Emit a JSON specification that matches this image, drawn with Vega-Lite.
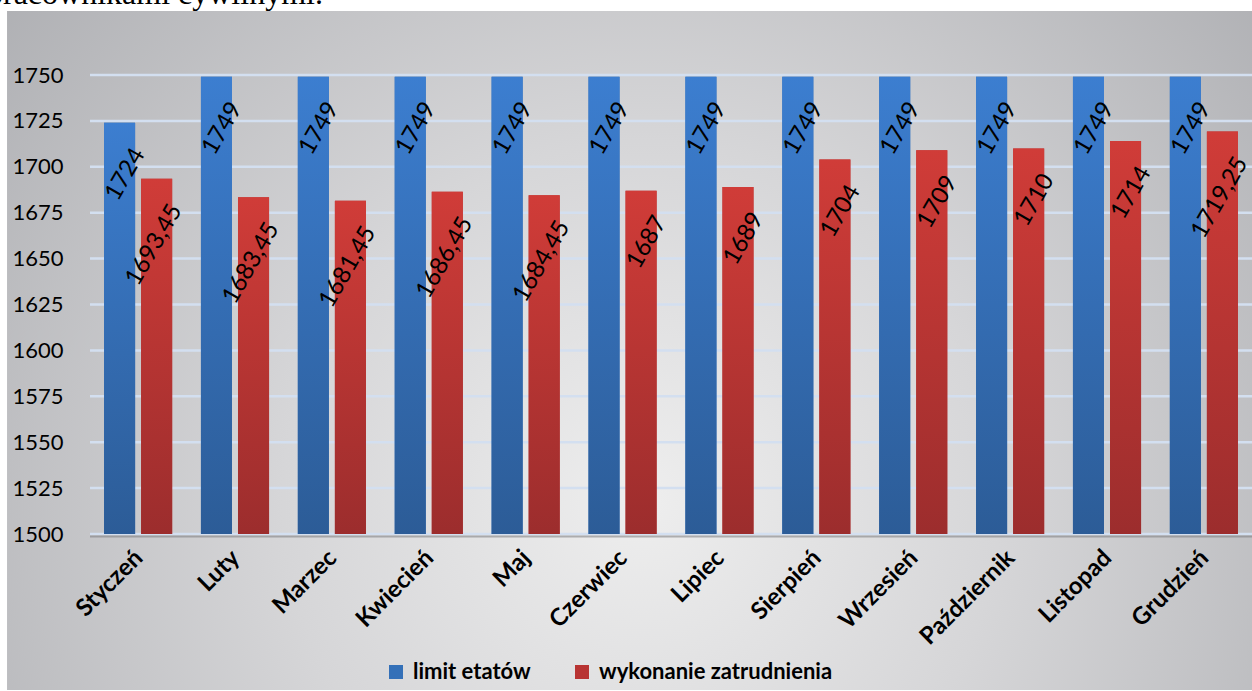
{
  "$schema": "https://vega.github.io/schema/vega-lite/v6.json",
  "width": 1162,
  "height": 459,
  "autosize": {"type": "none"},
  "padding": {"left": 90, "top": 75, "right": 0, "bottom": 157},
  "background": "white",
  "title": {
    "text": "pracownikami cywilnymi.",
    "anchor": "start",
    "frame": "group",
    "font": "Liberation Serif",
    "fontSize": 32,
    "fontWeight": "normal",
    "color": "black",
    "baseline": "alphabetic",
    "dx": -103,
    "dy": 25,
    "offset": 0
  },
  "config": {
    "view": {"stroke": null},
    "locale": {"number": {"decimal": ",", "thousands": " ", "grouping": [3], "currency": ["", " zł"]}}
  },
  "datasets": {
    "bars": [
      {"miesiac": "Styczeń", "seria": "limit etatów", "wartosc": 1724},
      {"miesiac": "Styczeń", "seria": "wykonanie zatrudnienia", "wartosc": 1693.45},
      {"miesiac": "Luty", "seria": "limit etatów", "wartosc": 1749},
      {"miesiac": "Luty", "seria": "wykonanie zatrudnienia", "wartosc": 1683.45},
      {"miesiac": "Marzec", "seria": "limit etatów", "wartosc": 1749},
      {"miesiac": "Marzec", "seria": "wykonanie zatrudnienia", "wartosc": 1681.45},
      {"miesiac": "Kwiecień", "seria": "limit etatów", "wartosc": 1749},
      {"miesiac": "Kwiecień", "seria": "wykonanie zatrudnienia", "wartosc": 1686.45},
      {"miesiac": "Maj", "seria": "limit etatów", "wartosc": 1749},
      {"miesiac": "Maj", "seria": "wykonanie zatrudnienia", "wartosc": 1684.45},
      {"miesiac": "Czerwiec", "seria": "limit etatów", "wartosc": 1749},
      {"miesiac": "Czerwiec", "seria": "wykonanie zatrudnienia", "wartosc": 1687},
      {"miesiac": "Lipiec", "seria": "limit etatów", "wartosc": 1749},
      {"miesiac": "Lipiec", "seria": "wykonanie zatrudnienia", "wartosc": 1689},
      {"miesiac": "Sierpień", "seria": "limit etatów", "wartosc": 1749},
      {"miesiac": "Sierpień", "seria": "wykonanie zatrudnienia", "wartosc": 1704},
      {"miesiac": "Wrzesień", "seria": "limit etatów", "wartosc": 1749},
      {"miesiac": "Wrzesień", "seria": "wykonanie zatrudnienia", "wartosc": 1709},
      {"miesiac": "Październik", "seria": "limit etatów", "wartosc": 1749},
      {"miesiac": "Październik", "seria": "wykonanie zatrudnienia", "wartosc": 1710},
      {"miesiac": "Listopad", "seria": "limit etatów", "wartosc": 1749},
      {"miesiac": "Listopad", "seria": "wykonanie zatrudnienia", "wartosc": 1714},
      {"miesiac": "Grudzień", "seria": "limit etatów", "wartosc": 1749},
      {"miesiac": "Grudzień", "seria": "wykonanie zatrudnienia", "wartosc": 1719.25}
    ],
    "grid": [
      {"poziom": 1500}, {"poziom": 1525}, {"poziom": 1550}, {"poziom": 1575}, {"poziom": 1600}, {"poziom": 1625},
      {"poziom": 1650}, {"poziom": 1675}, {"poziom": 1700}, {"poziom": 1725}, {"poziom": 1750}
    ],
    "tlo": [{"a": 0}]
  },
  "resolve": {"scale": {"x": "independent"}},
  "layer": [
    {
      "data": {"name": "tlo"},
      "mark": {
        "type": "rect",
        "clip": false,
        "fill": {
          "gradient": "radial",
          "x1": 0.51, "y1": 0.62, "r1": 0,
          "x2": 0.51, "y2": 0.62, "r2": 0.72,
          "stops": [
            {"offset": 0, "color": "#eeeeee"},
            {"offset": 0.4, "color": "#d6d6d8"},
            {"offset": 1, "color": "#a8a9ad"}
          ]
        }
      },
      "encoding": {
        "x": {"datum": -0.0714, "type": "quantitative", "scale": {"domain": [0, 1], "nice": false, "zero": false}, "axis": null},
        "x2": {"datum": 1.0},
        "y": {"datum": 1784.9, "type": "quantitative", "scale": {"domain": [1500, 1750], "nice": false, "zero": false}},
        "y2": {"datum": 1415.0}
      }
    },
    {
      "layer": [
        {
          "data": {"name": "grid"},
          "mark": {"type": "rule", "stroke": "#d3dff0", "strokeWidth": 2.5},
          "encoding": {
            "y": {"field": "poziom", "type": "quantitative", "scale": {"domain": [1500, 1750], "nice": false, "zero": false}}
          }
        },
        {
          "data": {"name": "tlo"},
          "mark": {"type": "rule", "stroke": "#7a7a7c", "strokeWidth": 2, "opacity": 0.55, "yOffset": 2.5},
          "encoding": {
            "y": {"datum": 1500, "type": "quantitative", "scale": {"domain": [1500, 1750], "nice": false, "zero": false}}
          }
        },
        {
          "data": {"name": "bars"},
          "mark": {"type": "bar", "clip": false},
          "encoding": {
            "x": {
              "field": "miesiac", "type": "nominal", "sort": null,
              "scale": {"paddingInner": 0.297, "paddingOuter": 0.145},
              "axis": {
                "title": null, "labelAngle": -45, "labelAlign": "right", "labelBaseline": "middle",
                "labelFont": "Lato", "labelFontWeight": "bold", "labelFontSize": 24, "labelColor": "black",
                "labelPadding": 20, "labelOffset": 1, "ticks": false, "domain": false, "grid": false,
                "labelOverlap": false, "labelBound": false, "labelFlush": false, "labelLimit": 0, "zindex": 1
              }
            },
            "xOffset": {"field": "seria", "type": "nominal", "scale": {"domain": ["limit etatów", "wykonanie zatrudnienia"], "paddingInner": 0.162, "paddingOuter": 0}},
            "y": {
              "field": "wartosc", "type": "quantitative",
              "scale": {"domain": [1500, 1750], "nice": false, "zero": false},
              "axis": {
                "title": null, "values": [1500, 1525, 1550, 1575, 1600, 1625, 1650, 1675, 1700, 1725, 1750],
                "format": "d", "labelFont": "Lato", "labelFontSize": 22, "labelColor": "black",
                "labelPadding": 27, "ticks": false, "domain": false, "grid": false, "zindex": 1
              }
            },
            "y2": {"datum": 1500},
            "color": {
              "field": "seria", "type": "nominal",
              "scale": {
                "domain": ["limit etatów", "wykonanie zatrudnienia"],
                "range": ["#3470b8", "#b83433"]
              },
              "legend": {
                "title": null, "orient": "none", "direction": "horizontal",
                "legendX": 295, "legendY": 586,
                "symbolType": "square", "symbolSize": 196, "symbolStrokeWidth": 0,
                "labelFont": "Lato", "labelFontWeight": "bold", "labelFontSize": 22, "labelColor": "black",
                "labelLimit": 0, "columnPadding": 40, "labelOffset": 6
              }
            }
          }
        },
        {
          "data": {"name": "bars"},
          "mark": {"type": "bar", "clip": false},
          "encoding": {
            "x": {"field": "miesiac", "type": "nominal", "sort": null, "scale": {"paddingInner": 0.297, "paddingOuter": 0.145}},
            "xOffset": {"field": "seria", "type": "nominal", "scale": {"domain": ["limit etatów", "wykonanie zatrudnienia"], "paddingInner": 0.162, "paddingOuter": 0}},
            "y": {"field": "wartosc", "type": "quantitative", "scale": {"domain": [1500, 1750], "nice": false, "zero": false}},
            "y2": {"datum": 1500},
            "color": {
              "condition": {
                "test": "datum.seria === 'limit etatów'",
                "value": {"gradient": "linear", "x1": 0, "y1": 0, "x2": 0, "y2": 1, "stops": [{"offset": 0, "color": "#3c7ed0"}, {"offset": 1, "color": "#2c5c97"}]}
              },
              "value": {"gradient": "linear", "x1": 0, "y1": 0, "x2": 0, "y2": 1, "stops": [{"offset": 0, "color": "#d03c38"}, {"offset": 1, "color": "#9c2d2d"}]}
            }
          }
        },
        {
          "data": {"name": "bars"},
          "mark": {
            "type": "text", "angle": -60, "align": "right", "baseline": "middle",
            "dx": -14, "dy": 31, "font": "Lato", "fontSize": 24, "color": "black", "clip": false
          },
          "encoding": {
            "x": {"field": "miesiac", "type": "nominal", "sort": null, "scale": {"paddingInner": 0.297, "paddingOuter": 0.145}},
            "xOffset": {"field": "seria", "type": "nominal", "scale": {"domain": ["limit etatów", "wykonanie zatrudnienia"], "paddingInner": 0.162, "paddingOuter": 0}},
            "y": {"field": "wartosc", "type": "quantitative", "scale": {"domain": [1500, 1750], "nice": false, "zero": false}},
            "text": {"field": "wartosc", "type": "quantitative", "format": ".2~f"}
          }
        }
      ]
    }
  ]
}
